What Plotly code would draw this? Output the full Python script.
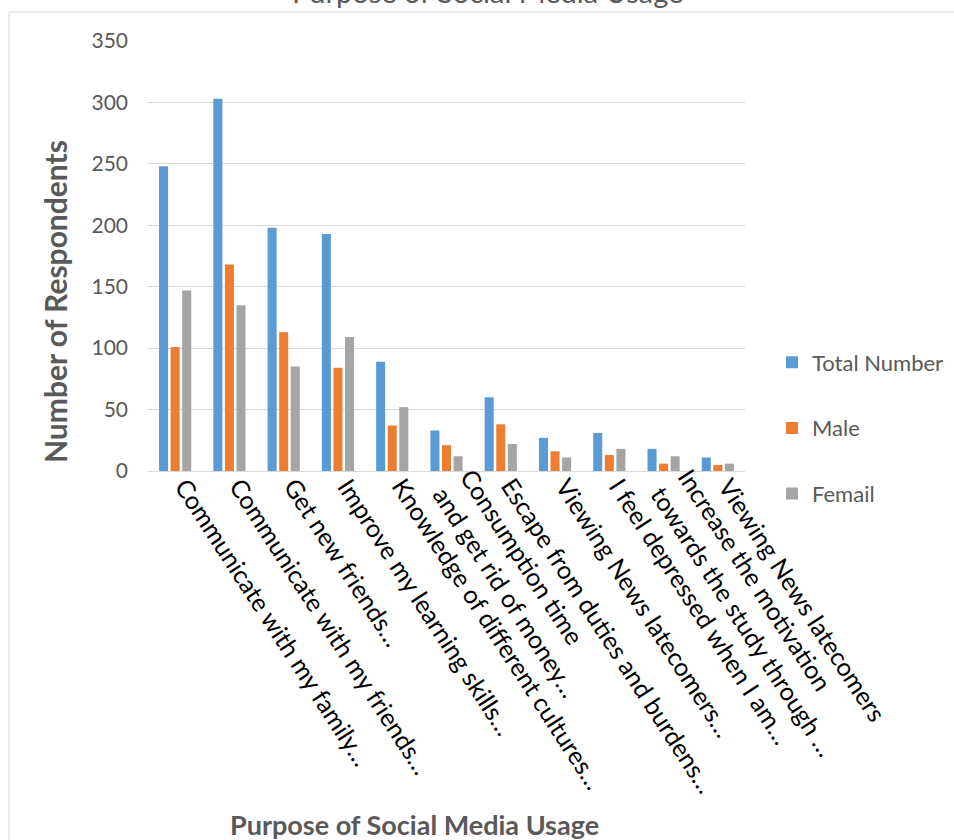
import math
import plotly.graph_objects as go

# Survey: purpose of social media usage, by respondent group
categories = [
    "Communicate with my family…",
    "Communicate with my friends…",
    "Get new friends…",
    "Improve my learning skills…",
    "Knowledge of different cultures…",
    "Consumption time<br>and get rid of money…",
    "Escape from duties and burdens…",
    "Viewing News latecomers…",
    "I feel depressed when I am…",
    "Increase the motivation<br>towards the study through …",
    "Viewing News latecomers",
]
total_number = [248, 303, 198, 193, 89, 33, 60, 27, 31, 18, 11]
male = [101, 168, 113, 84, 37, 21, 38, 16, 13, 6, 5]
femail = [147, 135, 85, 109, 52, 12, 22, 11, 18, 12, 6]

series = [
    ("Total Number", total_number, "#5B9BD5"),
    ("Male", male, "#ED7D31"),
    ("Femail", femail, "#A5A5A5"),
]

FONT = "Lato, Calibri, 'Open Sans', sans-serif"
GREY = "#595959"

# plot area geometry (pixels) used to place paper-referenced extras
W, H = 954, 840
L, R, T, B = 148, 745, 41, 471


def px_x(px):
    return (px - L) / (R - L)


def px_y(py):
    return (B - py) / (B - T)


fig = go.Figure()
for i, (name, vals, color) in enumerate(series):
    fig.add_trace(go.Bar(
        name=name,
        x=categories,
        y=vals,
        marker=dict(color=color, line=dict(width=0)),
        legendgroup=f"g{i}",
    ))

# Rotated category labels: each text block is centred (across its lines) on
# the category tick, so two-line labels sit between their neighbours.
TICK_ANGLE = 57
TICK_SIZE = 25
LINE_H = 1.3 * TICK_SIZE
sin_a = math.sin(math.radians(TICK_ANGLE))
cos_a = math.cos(math.radians(TICK_ANGLE))
LABEL_DX, LABEL_Y = 7, 480  # start of the label's centre line, in pixels

tick_labels = []
for cat in categories:
    n_lines = cat.count("<br>") + 1
    half = n_lines * LINE_H / 2
    tick_labels.append(dict(
        text=cat,
        xref="x", yref="paper",
        x=cat, y=px_y(LABEL_Y - half * cos_a),
        xshift=LABEL_DX - half * sin_a,
        xanchor="left", yanchor="top",
        textangle=TICK_ANGLE,
        align="left",
        borderpad=0,
        showarrow=False,
        font=dict(family=FONT, size=TICK_SIZE, color="#000000"),
    ))

fig.update_layout(
    width=W,
    height=H,
    margin=dict(l=L, r=W - R, t=T, b=H - B, autoexpand=False),
    paper_bgcolor="white",
    plot_bgcolor="white",
    barmode="group",
    bargap=0.36,
    bargroupgap=0.22,
    font=dict(family=FONT, color=GREY),
    showlegend=True,
    legend=dict(
        x=px_x(772), y=px_y(428), xanchor="left", yanchor="middle",
        font=dict(family=FONT, size=22, color=GREY),
        tracegroupgap=34,
        bgcolor="rgba(0,0,0,0)",
    ),
    xaxis=dict(
        type="category",
        range=[-0.5, len(categories) - 0.5],
        autorange=False,
        showticklabels=False,
        showgrid=False,
        showline=True,
        linecolor="#d9d9d9",
        linewidth=1,
        ticks="",
    ),
    yaxis=dict(
        range=[0, 350],
        autorange=False,
        tickvals=[0, 50, 100, 150, 200, 250, 300, 350],
        tickfont=dict(family=FONT, size=21, color=GREY),
        showgrid=True,
        gridcolor="#d9d9d9",
        gridwidth=1,
        zeroline=False,
        ticks="",
        ticklabelstandoff=19,
    ),
    shapes=[
        dict(
            type="rect", xref="paper", yref="paper",
            x0=px_x(9), y0=px_y(900), x1=px_x(1000), y1=px_y(12),
            line=dict(color="#d9d9d9", width=1),
            layer="below",
        )
    ],
    annotations=tick_labels + [
        dict(
            text="Purpose of Social Media Usage",
            xref="paper", yref="paper",
            x=px_x(488), y=px_y(11),
            xanchor="center", yanchor="bottom",
            showarrow=False,
            font=dict(family=FONT, size=29, color=GREY),
        ),
        dict(
            text="<b>Number of Respondents</b>",
            xref="paper", yref="paper",
            x=px_x(55), y=px_y(302),
            xanchor="center", yanchor="middle",
            textangle=-90,
            showarrow=False,
            font=dict(family=FONT, size=30, color=GREY),
        ),
        dict(
            text="<b>Purpose of Social Media Usage</b>",
            xref="paper", yref="paper",
            x=px_x(414), y=px_y(824),
            xanchor="center", yanchor="middle",
            showarrow=False,
            font=dict(family=FONT, size=27, color=GREY),
        ),
    ],
)

fig.write_html("out.html")
